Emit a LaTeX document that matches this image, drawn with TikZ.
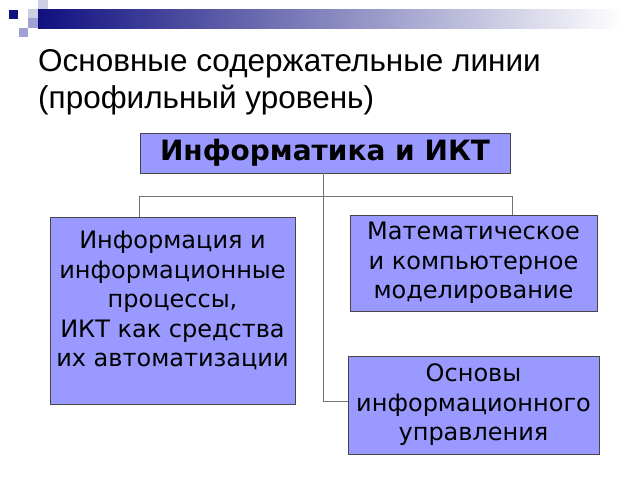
\documentclass[tikz,border=0pt]{standalone}
\usepackage{fontspec}
\setmainfont{Liberation Sans}
\newfontfamily\boxfont{DejaVu Sans}
\usetikzlibrary{positioning, calc}
\definecolor{boxfill}{RGB}{153,153,255}
\definecolor{boxline}{RGB}{70,70,70}
\definecolor{navybar}{RGB}{16,16,128}
\definecolor{sqlight}{RGB}{205,205,228}
\definecolor{sqmid}{RGB}{160,160,210}

\begin{document}
\begin{tikzpicture}[x=1pt, y=-1pt,
    linebox/.style={draw=boxline, fill=boxfill, line width=0.8pt, align=center, inner sep=0pt,
        font=\boxfont\fontsize{24}{29.5}\selectfont},
    link/.style={draw=gray!90!black, line width=0.7pt}]
    \useasboundingbox (0,0) rectangle (640,480);

    % Corner squares and bar
    \shade[left color=navybar, right color=white] (38,9) rectangle (622,28);
    \fill[navybar] (9,10) rectangle (18,19);
    \fill[sqlight] (28,9) rectangle (38,18);
    \fill[sqmid] (28,18) rectangle (38,28);
    \fill[sqlight] (38,0) rectangle (48,9);
    \fill[sqmid] (19,28) rectangle (28,37);

    % Title
    \node[anchor=base west, inner sep=0pt, align=left, font=\fontsize{31.5}{37}\selectfont] (title) at (38,108)
        {Основные содержательные линии\\(профильный уровень)};

    % Boxes
    \node[linebox, minimum width=370, minimum height=40, font=\boxfont\bfseries\fontsize{28}{30}\selectfont]
        (ikt) at (325,153) {Информатика и ИКТ};
    \node[linebox, minimum width=245, minimum height=187] (proc) at (172.5,310.5)
        {Информация и\\информационные\\процессы,\\ИКТ как средства\\их автоматизации\\[-6pt]\mbox{}};
    \node[linebox, minimum width=247, minimum height=96] (model) at (473.5,263)
        {Математическое\\и компьютерное\\моделирование};
    \node[linebox, minimum width=251, minimum height=98] (upr) at (473.5,405)
        {Основы\\информационного\\управления};

    % Connectors
    \coordinate (hub) at ($(ikt.south)+(-2,23)$);
    \coordinate (lj) at ($(proc.north west)+(90,0)$);
    \coordinate (rj) at ($(model.north east)+(-85,0)$);
    \draw[link] (ikt.south -| hub) |- ($(upr.west)+(0,-4)$);
    \draw[link] (lj) |- (hub) -| (rj);
\end{tikzpicture}
\end{document}
